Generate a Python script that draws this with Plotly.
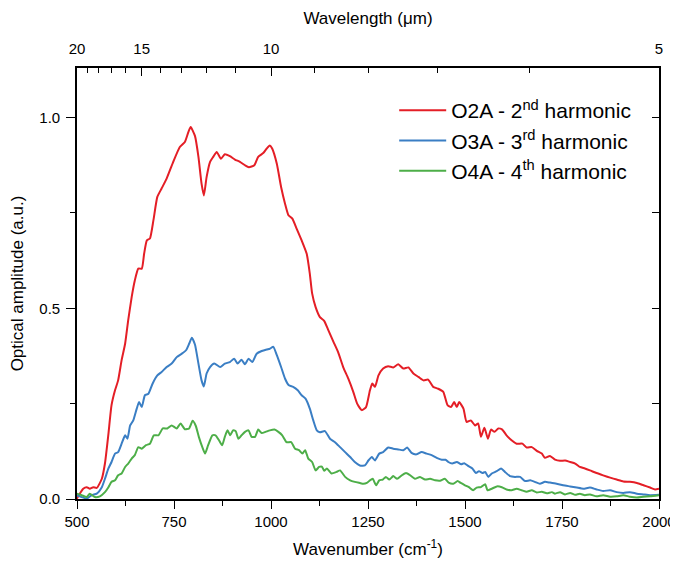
import plotly.graph_objects as go

# ---- data ----
red_wn = [499,516,525,533,542,551,564,572,581,589,598,606,615,624,632,641,649,658,667,673,680,688,697,707,718,731,748,765,778,787,793,804,813,821,827,834,843,851,860,871,881,894,907,920,933,943,957,967,980,989,997,1003,1015,1026,1036,1045,1055,1066,1079,1092,1100,1106,1115,1126,1137,1148,1161,1173,1186,1199,1212,1222,1234,1245,1255,1261,1268,1277,1289,1302,1315,1328,1341,1354,1367,1380,1393,1405,1418,1431,1444,1455,1464,1472,1479,1485,1496,1504,1515,1526,1534,1541,1550,1559,1567,1576,1586,1596,1607,1620,1633,1648,1659,1672,1685,1698,1706,1719,1732,1745,1758,1771,1784,1796,1809,1822,1839,1856,1874,1891,1908,1925,1943,1960,1977,1990,2000]
red_amp = [0.000,0.027,0.031,0.027,0.031,0.029,0.053,0.093,0.171,0.246,0.285,0.311,0.364,0.407,0.469,0.530,0.573,0.604,0.604,0.643,0.678,0.683,0.731,0.792,0.814,0.840,0.884,0.923,0.936,0.962,0.975,0.952,0.897,0.827,0.796,0.844,0.884,0.897,0.910,0.892,0.904,0.899,0.890,0.884,0.875,0.870,0.875,0.897,0.907,0.919,0.927,0.919,0.879,0.818,0.775,0.744,0.735,0.709,0.678,0.643,0.591,0.539,0.503,0.477,0.467,0.442,0.412,0.385,0.346,0.316,0.281,0.250,0.233,0.241,0.285,0.303,0.294,0.324,0.342,0.348,0.345,0.353,0.342,0.345,0.329,0.320,0.311,0.313,0.294,0.289,0.281,0.246,0.241,0.254,0.241,0.254,0.237,0.202,0.206,0.193,0.198,0.163,0.187,0.158,0.182,0.176,0.185,0.182,0.167,0.154,0.145,0.145,0.135,0.136,0.126,0.119,0.108,0.113,0.103,0.100,0.101,0.097,0.093,0.084,0.080,0.075,0.068,0.062,0.056,0.051,0.046,0.045,0.042,0.036,0.030,0.025,0.027]

blue_wn = [499,512,525,538,551,564,572,581,589,598,606,615,624,630,637,645,654,660,667,675,684,695,707,718,731,744,757,770,781,789,796,804,813,821,827,834,843,854,869,881,894,905,914,924,933,942,952,963,976,989,997,1006,1015,1026,1036,1046,1057,1069,1079,1089,1100,1109,1118,1126,1139,1152,1165,1178,1191,1204,1216,1229,1242,1251,1260,1268,1279,1289,1302,1315,1328,1341,1351,1362,1375,1388,1401,1414,1427,1440,1450,1457,1467,1479,1490,1498,1509,1519,1528,1536,1545,1552,1560,1569,1582,1593,1603,1616,1629,1642,1655,1668,1680,1693,1706,1719,1736,1753,1771,1788,1805,1822,1839,1856,1874,1891,1908,1925,1943,1960,1977,2000]
blue_amp = [0.010,0.005,0.001,0.010,0.014,0.031,0.053,0.080,0.097,0.119,0.123,0.145,0.167,0.158,0.193,0.206,0.237,0.254,0.241,0.272,0.276,0.303,0.324,0.333,0.346,0.355,0.372,0.381,0.390,0.407,0.423,0.405,0.355,0.311,0.295,0.329,0.346,0.355,0.346,0.355,0.359,0.368,0.355,0.365,0.353,0.368,0.359,0.381,0.388,0.392,0.394,0.399,0.377,0.346,0.316,0.298,0.294,0.285,0.272,0.263,0.237,0.206,0.180,0.175,0.178,0.158,0.149,0.136,0.123,0.110,0.097,0.088,0.088,0.101,0.110,0.101,0.119,0.123,0.135,0.132,0.130,0.128,0.135,0.121,0.117,0.123,0.119,0.115,0.108,0.103,0.103,0.097,0.093,0.097,0.091,0.094,0.086,0.080,0.068,0.073,0.068,0.071,0.058,0.067,0.073,0.080,0.071,0.060,0.058,0.058,0.047,0.049,0.045,0.040,0.045,0.043,0.040,0.036,0.033,0.030,0.027,0.030,0.025,0.021,0.023,0.018,0.016,0.018,0.014,0.012,0.010,0.011]

green_wn = [499,512,525,533,546,559,572,581,589,598,606,615,624,632,641,649,658,667,678,688,698,710,721,733,744,757,767,778,789,798,806,814,823,830,838,849,857,866,874,881,888,895,902,909,916,924,933,942,950,959,967,976,986,997,1009,1019,1029,1040,1052,1062,1072,1081,1088,1096,1106,1115,1124,1131,1137,1144,1156,1169,1178,1191,1204,1216,1229,1238,1247,1255,1262,1271,1279,1288,1296,1305,1315,1325,1337,1348,1359,1371,1384,1397,1410,1423,1436,1448,1459,1470,1481,1489,1500,1510,1521,1530,1541,1552,1558,1569,1582,1595,1607,1620,1633,1646,1659,1672,1685,1698,1711,1724,1732,1745,1758,1771,1784,1796,1809,1822,1839,1856,1874,1891,1908,1925,1943,1960,1977,2000]
green_amp = [0.014,0.010,0.005,0.014,0.005,0.007,0.018,0.031,0.045,0.049,0.062,0.067,0.084,0.093,0.106,0.115,0.136,0.132,0.141,0.145,0.167,0.167,0.185,0.185,0.193,0.185,0.198,0.183,0.185,0.205,0.192,0.163,0.136,0.119,0.141,0.167,0.167,0.154,0.141,0.163,0.180,0.167,0.180,0.178,0.158,0.167,0.176,0.180,0.163,0.163,0.182,0.173,0.176,0.180,0.182,0.176,0.167,0.149,0.149,0.132,0.128,0.119,0.128,0.106,0.097,0.075,0.084,0.085,0.074,0.080,0.067,0.071,0.075,0.058,0.049,0.045,0.042,0.040,0.042,0.049,0.053,0.036,0.049,0.051,0.058,0.051,0.060,0.053,0.062,0.068,0.062,0.053,0.058,0.051,0.053,0.049,0.048,0.053,0.042,0.040,0.047,0.042,0.036,0.031,0.023,0.030,0.031,0.039,0.023,0.027,0.033,0.031,0.025,0.023,0.027,0.023,0.019,0.023,0.017,0.019,0.015,0.018,0.014,0.018,0.012,0.016,0.011,0.014,0.010,0.012,0.007,0.010,0.006,0.007,0.010,0.006,0.004,0.006,0.007,0.010]

series_names = ["O2A - 2<sup>nd</sup> harmonic",
                "O3A - 3<sup>rd</sup> harmonic",
                "O4A - 4<sup>th</sup> harmonic"]
series_colors = ["#E41E26", "#3A7EC4", "#4DAE48"]

x_ticks = [500, 750, 1000, 1250, 1500, 1750, 2000]
x_minor = [625, 875, 1125, 1375, 1625, 1875]
y_ticks = [0.0, 0.5, 1.0]
y_tick_text = ["0.0", "0.5", "1.0"]
y_right_ticks = [0.0, 0.25, 0.5, 0.75, 1.0]
wl_major = [20, 15, 10, 5]
wl_minor = [19, 18, 17, 16, 14, 13, 12, 11, 9, 8, 7, 6]

FONT = "Arial, Liberation Sans, sans-serif"
TICK_SIZE = 15
TITLE_SIZE = 17

fig = go.Figure()
for wn, amp, name, col in [(red_wn, red_amp, series_names[0], series_colors[0]),
                           (blue_wn, blue_amp, series_names[1], series_colors[1]),
                           (green_wn, green_amp, series_names[2], series_colors[2])]:
    fig.add_trace(go.Scatter(x=wn, y=amp, mode="lines", name=name,
                             line=dict(color=col, width=2, shape="spline", smoothing=0.5)))

# invisible helper trace for top / right axes
fig.add_trace(go.Scatter(x=[500, 2000], y=[0, 0], xaxis="x2", yaxis="y2",
                         mode="lines", line=dict(width=0), opacity=0,
                         showlegend=False, hoverinfo="skip"))

axis_common = dict(showgrid=False, zeroline=False, showline=True,
                   linecolor="black", linewidth=1.6, tickcolor="black",
                   tickwidth=1.4, automargin=False)

fig.update_layout(
    width=678, height=564,
    margin=dict(l=69, r=27, t=60, b=73),
    paper_bgcolor="white", plot_bgcolor="white",
    font=dict(family=FONT, color="black"),
    xaxis=dict(range=[500, 2000], tickmode="array", tickvals=x_ticks,
               ticks="outside", ticklen=8,
               tickfont=dict(size=TICK_SIZE),
               minor=dict(tickmode="array", tickvals=x_minor, ticks="outside",
                          ticklen=5, tickcolor="black", tickwidth=1.4),
               title=dict(text="Wavenumber (cm<sup>-1</sup>)", font=dict(size=TITLE_SIZE), standoff=14),
               **axis_common),
    yaxis=dict(range=[0, 1.13], tickmode="array", tickvals=y_ticks,
               ticktext=y_tick_text, ticks="outside", ticklen=9,
               ticklabelstandoff=3,
               tickfont=dict(size=TICK_SIZE),
               minor=dict(tickmode="array", tickvals=[0.25, 0.75], ticks="outside",
                          ticklen=5, tickcolor="black", tickwidth=1.4),
               title=dict(text="Optical amplitude (a.u.)", font=dict(size=TITLE_SIZE), standoff=14),
               **axis_common),
    xaxis2=dict(overlaying="x", side="top", anchor="y2", range=[500, 2000],
                tickmode="array", tickvals=[10000 / w for w in wl_major],
                ticktext=[str(w) for w in wl_major],
                ticks="inside", ticklen=8, tickfont=dict(size=TICK_SIZE),
                ticklabelstandoff=6,
                minor=dict(tickmode="array", tickvals=[10000 / w for w in wl_minor],
                           ticks="inside", ticklen=5, tickcolor="black", tickwidth=1.4),
                title=dict(text="Wavelength (μm)", font=dict(size=TITLE_SIZE), standoff=11),
                **axis_common),
    yaxis2=dict(overlaying="y", side="right", anchor="x2", range=[0, 1.13],
                tickmode="array", tickvals=y_right_ticks, showticklabels=False,
                ticks="inside", ticklen=7, **axis_common),
    legend=dict(x=0.545, y=0.949, xanchor="left", yanchor="top",
                bgcolor="rgba(0,0,0,0)", borderwidth=0, itemwidth=47,
                font=dict(size=21, family=FONT), tracegroupgap=0),
    showlegend=True,
)

fig.write_html("out.html")
